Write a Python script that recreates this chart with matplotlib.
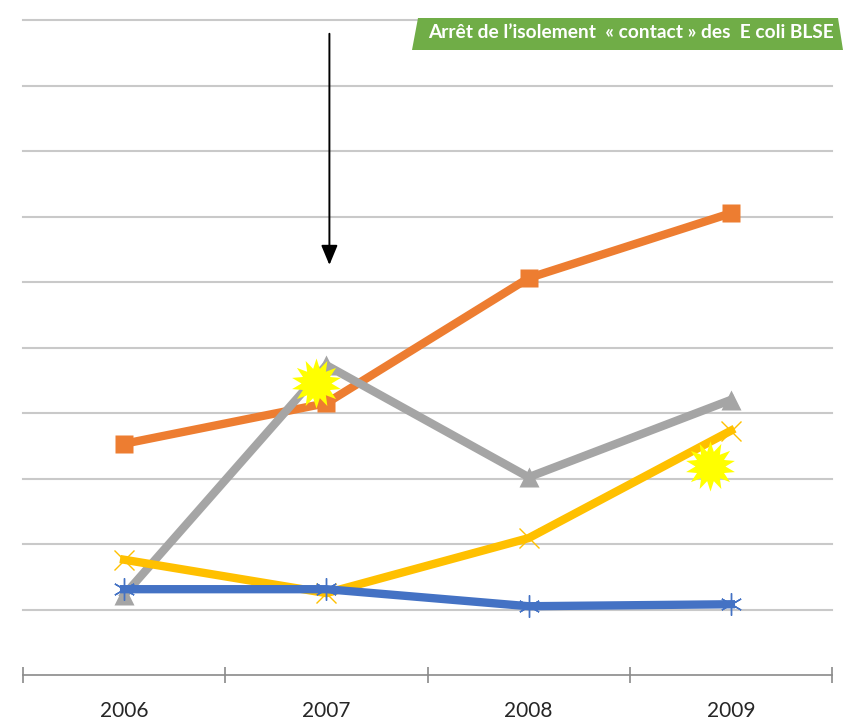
import matplotlib
matplotlib.use('Agg')
import matplotlib.pyplot as plt
from matplotlib.patches import Polygon
from matplotlib.path import Path

plt.rcParams['font.family'] = ['Lato', 'DejaVu Sans']

W, H = 843, 722

years = ['2006', '2007', '2008', '2009']
orange_vals = [3.53, 4.15, 6.06, 7.05]
gray_vals = [1.22, 4.73, 3.02, 4.20]
yellow_vals = [1.76, 1.25, 2.09, 3.73]
blue_vals = [1.31, 1.31, 1.05, 1.08]

# yellow bursts sit slightly off the points they flag
burst_x = [0.947, 2.895]
burst_y = [4.46, 3.19]

arrow_x = 1.015
arrow_top = 9.79
arrow_tip = 6.26

banner_text = 'Arrêt de l’isolement  « contact » des  E coli BLSE'


def fig_xy(x, y):
    # pixel position (origin top left) to figure fraction
    return x / W, 1 - y / H


fig = plt.figure(figsize=(W / 100, H / 100), dpi=100, facecolor='white')
ax = fig.add_axes([23 / W, (H - 675) / H, 809 / W, 655 / H])

xs = list(range(len(years)))
ax.set_xlim(-0.5, 3.5)
ax.set_ylim(0, 10)

for name in ['top', 'left', 'right']:
    ax.spines[name].set_visible(False)
ax.spines['bottom'].set_color('#8a8a8a')
ax.spines['bottom'].set_linewidth(1.2)

ax.set_yticks(range(1, 11))
ax.tick_params(axis='y', length=0, labelleft=False)
ax.grid(axis='y', color='#c9c9c9', linewidth=1.5, zorder=0, clip_on=False)
ax.set_axisbelow(True)

# ticks on the band edges, year labels centred between them
ax.set_xticks([-0.5, 0.5, 1.5, 2.5, 3.5])
ax.set_xticklabels([])
ax.tick_params(axis='x', which='major', direction='inout', length=12, width=1.2, color='#8a8a8a')
ax.set_xticks(xs, minor=True)
ax.set_xticklabels(years, minor=True, fontsize=15, color='#262626')
ax.tick_params(axis='x', which='minor', length=0, pad=19)

lw = 6
ax.plot(xs, orange_vals, color='#ED7D31', lw=lw, marker='s', ms=13.5, mec='none', zorder=3, clip_on=False)
ax.plot(xs, gray_vals, color='#A5A5A5', lw=lw, marker='^', ms=15, mec='none', zorder=4, clip_on=False)
ax.plot(xs, yellow_vals, color='#FFC000', lw=lw, marker='x', ms=14, mew=1.0, zorder=5, clip_on=False)
ax.plot(xs, blue_vals, color='#4472C4', lw=lw, marker=(6, 2, 0), ms=16, mew=1.0, zorder=6, clip_on=False)

burst = Path.unit_regular_star(14, innerCircle=0.6)
ax.scatter(burst_x, burst_y, s=1300, marker=burst, color='#FFFF00', linewidths=0, zorder=7)

ax.annotate('', xy=(arrow_x, arrow_tip), xytext=(arrow_x, arrow_top),
            arrowprops=dict(arrowstyle='-|>,head_length=1.2,head_width=0.5', color='black', lw=1.4,
                            shrinkA=0, shrinkB=0), zorder=8)

# green banner in the top right corner, runs off the axes
corners = [fig_xy(418, 18), fig_xy(838, 18), fig_xy(843, 50), fig_xy(412, 50)]
fig.add_artist(Polygon(corners, closed=True, transform=fig.transFigure, facecolor='#70AD47',
                       edgecolor='none', zorder=9))
tx, ty = fig_xy(428, 33)
fig.text(tx, ty, banner_text, color='white', fontsize=13.8, fontweight='bold', va='center', ha='left', zorder=10)

fig.savefig('out.png', dpi=100)
